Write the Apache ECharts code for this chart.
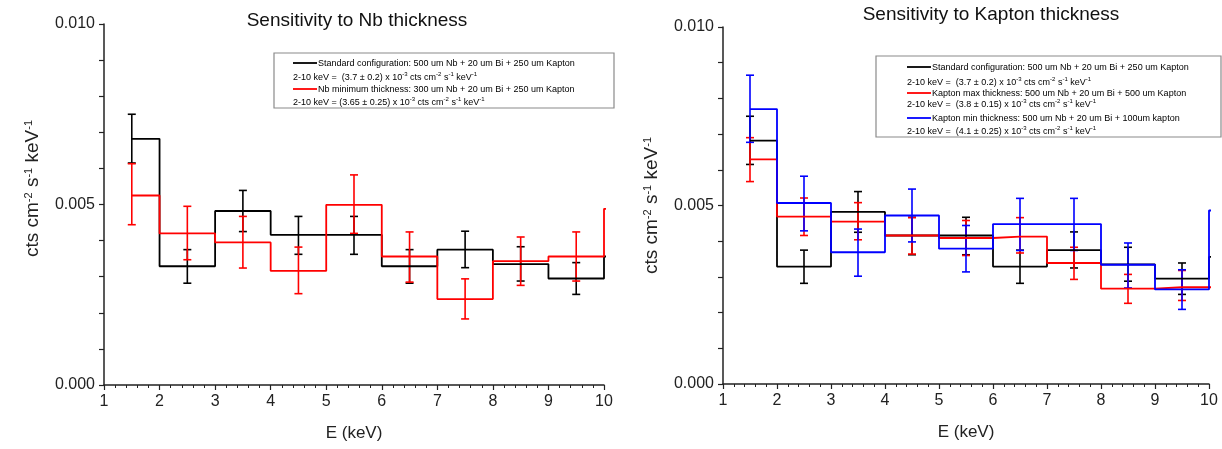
<!DOCTYPE html>
<html>
<head>
<meta charset="utf-8">
<script src="https://cdn.jsdelivr.net/npm/echarts@6/dist/echarts.min.js"></script>
<style>
  html, body { margin: 0; padding: 0; background: #ffffff; }
  #chart { width: 1222px; height: 449px; }
</style>
</head>
<body>
<div id="chart"></div>
<script>
// ---------- DATA ----------
const binCenters = [1.5, 2.5, 3.5, 4.5, 5.5, 6.5, 7.5, 8.5, 9.5];   // keV
const closeX = 10.5;                                                  // point that closes the last step at 10 keV
const yTicks = [0.000, 0.005, 0.010];
const xTicks = [1, 2, 3, 4, 5, 6, 7, 8, 9, 10];

// Standard configuration: 500 um Nb + 20 um Bi + 250 um Kapton
const stdVals = [0.00682, 0.00329, 0.00482, 0.00416, 0.00416, 0.00329, 0.00375, 0.00335, 0.00295];
const stdHigh = [0.00750, 0.00375, 0.00539, 0.00467, 0.00467, 0.00375, 0.00426, 0.00383, 0.00339];
const stdLow  = [0.00615, 0.00282, 0.00425, 0.00362, 0.00362, 0.00282, 0.00325, 0.00288, 0.00251];
const stdEnd  = 0.00356;

// Nb minimum thickness: 300 um Nb + 20 um Bi + 250 um Kapton
const nbMinVals = [0.00525, 0.00420, 0.00395, 0.00316, 0.00499, 0.00356, 0.00238, 0.00343, 0.00356];
const nbMinHigh = [0.00613, 0.00495, 0.00467, 0.00382, 0.00582, 0.00424, 0.00294, 0.00410, 0.00424];
const nbMinLow  = [0.00444, 0.00347, 0.00324, 0.00253, 0.00420, 0.00285, 0.00183, 0.00276, 0.00288];
const nbMinEnd  = 0.00488;

// Kapton max thickness: 500 um Nb + 20 um Bi + 500 um Kapton
const kapMaxVals = [0.00629, 0.00469, 0.00455, 0.00416, 0.00409, 0.00413, 0.00339, 0.00267, 0.00271];
const kapMaxHigh = [0.00690, 0.00521, 0.00508, 0.00466, 0.00458, 0.00466, 0.00383, 0.00307, 0.00318];
const kapMaxLow  = [0.00567, 0.00416, 0.00404, 0.00364, 0.00360, 0.00367, 0.00293, 0.00226, 0.00234];
const kapMaxEnd  = 0.00271;

// Kapton min thickness: 500 um Nb + 20 um Bi + 100um kapton
const kapMinVals = [0.00770, 0.00507, 0.00369, 0.00472, 0.00379, 0.00448, 0.00448, 0.00334, 0.00265];
const kapMinHigh = [0.00865, 0.00582, 0.00434, 0.00546, 0.00444, 0.00520, 0.00520, 0.00395, 0.00320];
const kapMinLow  = [0.00677, 0.00429, 0.00302, 0.00398, 0.00314, 0.00374, 0.00374, 0.00269, 0.00209];
const kapMinEnd  = 0.00486;

const titles = ['Sensitivity to Nb thickness', 'Sensitivity to Kapton thickness'];
const xName = 'E (keV)';
const leftLegend = [
  { name: 'Standard configuration: 500 um Nb + 20 um Bi + 250 um Kapton', rate: '2-10 keV =  (3.7 ± 0.2) x 10' },
  { name: 'Nb minimum thickness: 300 um Nb + 20 um Bi + 250 um Kapton', rate: '2-10 keV = (3.65 ± 0.25) x 10' }
];
const rightLegend = [
  { name: 'Standard configuration: 500 um Nb + 20 um Bi + 250 um Kapton', rate: '2-10 keV =  (3.7 ± 0.2) x 10' },
  { name: 'Kapton max thickness: 500 um Nb + 20 um Bi + 500 um Kapton', rate: '2-10 keV =  (3.8 ± 0.15) x 10' },
  { name: 'Kapton min thickness: 500 um Nb + 20 um Bi + 100um kapton', rate: '2-10 keV =  (4.1 ± 0.25) x 10' }
];

// ---------- STYLE ----------
const FONT = 'Liberation Sans, Arial, sans-serif';
const BLACK = '#000000', RED = '#ff0000', BLUE = '#0000ff';
const AXIS = '#222222';

function stepData(vals, endVal) {
  return binCenters.map((x, i) => [x, vals[i]]).concat([[closeX, endVal]]);
}
function errData(low, high) {
  return binCenters.map((x, i) => [x, low[i], high[i]]);
}
function stepSeries(idx, vals, endVal, color) {
  return {
    type: 'line', xAxisIndex: idx, yAxisIndex: idx, step: 'middle',
    data: stepData(vals, endVal), showSymbol: false, symbol: 'none', clip: true,
    lineStyle: { color: color, width: 1.8 }, animation: false, silent: true
  };
}
function errSeries(idx, low, high, color) {
  return {
    type: 'custom', xAxisIndex: idx, yAxisIndex: idx, data: errData(low, high),
    encode: { x: 0, y: [1, 2] }, animation: false, silent: true,
    renderItem: function (params, api) {
      const x = api.value(0);
      const top = api.coord([x, api.value(2)]);
      const bot = api.coord([x, api.value(1)]);
      const hw = 4;
      const st = { stroke: color, lineWidth: 1.6 };
      return {
        type: 'group',
        children: [
          { type: 'line', shape: { x1: top[0], y1: top[1], x2: bot[0], y2: bot[1] }, style: st },
          { type: 'line', shape: { x1: top[0] - hw, y1: top[1], x2: top[0] + hw, y2: top[1] }, style: st },
          { type: 'line', shape: { x1: bot[0] - hw, y1: bot[1], x2: bot[0] + hw, y2: bot[1] }, style: st }
        ]
      };
    }
  };
}

function xAxisCfg(gridIndex) {
  return {
    gridIndex: gridIndex, type: 'value', min: 1, max: 10, interval: 1,
    name: xName, nameLocation: 'middle', nameGap: 40,
    nameTextStyle: { fontFamily: FONT, fontSize: 17, color: AXIS },
    axisLine: { show: true, onZero: false, lineStyle: { color: AXIS, width: 1.5 } },
    axisTick: { show: true, length: 5, lineStyle: { color: AXIS, width: 1.2 } },
    minorTick: { show: true, splitNumber: 5, length: 3, lineStyle: { color: AXIS, width: 1 } },
    axisLabel: { fontFamily: FONT, fontSize: 16, color: AXIS, margin: 9,
      formatter: v => (xTicks.indexOf(v) >= 0 ? String(v) : '') },
    splitLine: { show: false }
  };
}
const yRich = { sup: { fontFamily: FONT, fontSize: 11, verticalAlign: 'top', lineHeight: 10, color: AXIS } };
function yAxisCfg(gridIndex, pad) {
  return {
    gridIndex: gridIndex, type: 'value', min: 0, max: 0.010, interval: 0.005,
    name: 'cts cm{sup|-2} s{sup|-1} keV{sup|-1}', nameLocation: 'middle', nameGap: 62, nameRotate: 90,
    nameTextStyle: { fontFamily: FONT, fontSize: 19, color: AXIS, rich: yRich, padding: pad },
    axisLine: { show: true, lineStyle: { color: AXIS, width: 1.5 } },
    axisTick: { show: true, length: 5, lineStyle: { color: AXIS, width: 1.2 } },
    minorTick: { show: true, splitNumber: 5, length: 5, lineStyle: { color: AXIS, width: 1.2 } },
    axisLabel: { fontFamily: FONT, fontSize: 16, color: AXIS, margin: 9,
      formatter: v => { const t = yTicks.find(k => Math.abs(k - v) < 1e-9); return t === undefined ? '' : t.toFixed(3); } },
    splitLine: { show: false }
  };
}

// ---------- LEGEND BOXES (graphic) ----------
const legRich = {
  t: { fontFamily: FONT, fontSize: 9, color: '#111', lineHeight: 11, verticalAlign: 'bottom' },
  s: { fontFamily: FONT, fontSize: 6, color: '#111', lineHeight: 11, verticalAlign: 'top', padding: [0, 0, 0, 0] }
};
function rateText(prefix) {
  return '{t|' + prefix + '}{s|-3}{t| cts cm}{s|-2}{t| s}{s|-1}{t| keV}{s|-1}';
}
function legendBox(box, entries, colors, rows, lineX, textX) {
  const els = [{
    type: 'rect', shape: { x: box.x, y: box.y, width: box.w, height: box.h },
    style: { fill: '#ffffff', stroke: '#8a8a8a', lineWidth: 1.2 }, z: 10
  }];
  entries.forEach((e, i) => {
    const y1 = rows[2 * i], y2 = rows[2 * i + 1];
    els.push({ type: 'line', shape: { x1: lineX, y1: y1, x2: lineX + 24, y2: y1 },
      style: { stroke: colors[i], lineWidth: 1.8 }, z: 11 });
    els.push({ type: 'text', x: textX, y: y1, z: 11,
      style: { text: '{t|' + e.name + '}', rich: legRich, verticalAlign: 'middle', align: 'left' } });
    els.push({ type: 'text', x: lineX, y: y2, z: 11,
      style: { text: rateText(e.rate), rich: legRich, verticalAlign: 'middle', align: 'left' } });
  });
  return els;
}

const graphics = []
  .concat(legendBox({ x: 274, y: 53, w: 340, h: 55 }, leftLegend, [BLACK, RED], [63, 77, 89, 102], 293, 318))
  .concat(legendBox({ x: 876, y: 56, w: 345, h: 81 }, rightLegend, [BLACK, RED, BLUE], [67, 82, 93, 104, 118, 131], 907, 932));

const chart = echarts.init(document.getElementById('chart'), null, { renderer: 'canvas' });
chart.setOption({
  backgroundColor: '#ffffff',
  animation: false,
  title: [
    { text: titles[0], left: 352, top: 6, textAlign: 'center',
      textStyle: { fontFamily: FONT, fontSize: 19, fontWeight: 'normal', color: '#111' } },
    { text: titles[1], left: 986, top: 0, textAlign: 'center',
      textStyle: { fontFamily: FONT, fontSize: 19, fontWeight: 'normal', color: '#111' } }
  ],
  grid: [
    { left: 104, top: 24, width: 500, height: 361 },
    { left: 723, top: 27, width: 486, height: 357 }
  ],
  xAxis: [xAxisCfg(0), xAxisCfg(1)],
  yAxis: [yAxisCfg(0, [0, 0, 0, 32]), yAxisCfg(1, [0, 0, 0, 0])],
  series: [
    stepSeries(0, stdVals, stdEnd, BLACK),
    errSeries(0, stdLow, stdHigh, BLACK),
    stepSeries(0, nbMinVals, nbMinEnd, RED),
    errSeries(0, nbMinLow, nbMinHigh, RED),
    stepSeries(1, stdVals, stdEnd, BLACK),
    errSeries(1, stdLow, stdHigh, BLACK),
    stepSeries(1, kapMaxVals, kapMaxEnd, RED),
    errSeries(1, kapMaxLow, kapMaxHigh, RED),
    stepSeries(1, kapMinVals, kapMinEnd, BLUE),
    errSeries(1, kapMinLow, kapMinHigh, BLUE)
  ],
  graphic: graphics
});
</script>
</body>
</html>
